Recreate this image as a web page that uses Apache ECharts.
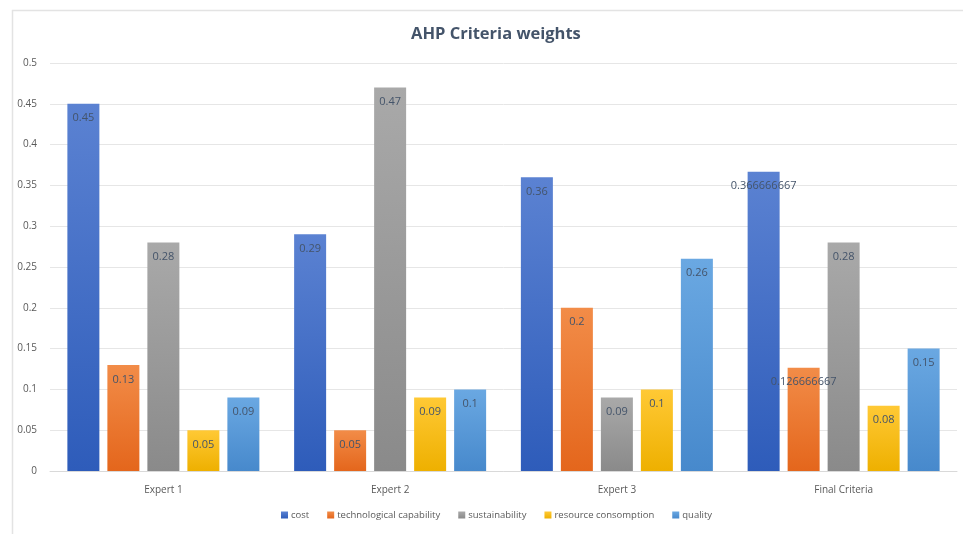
<!DOCTYPE html>
<html>
<head>
<meta charset="UTF-8">
<title>AHP Criteria weights</title>
<script src="https://cdn.jsdelivr.net/npm/echarts@6/dist/echarts.min.js"></script>
<style>
  html, body { margin: 0; padding: 0; background: #fff; }
  #main { width: 963px; height: 534px; }
</style>
</head>
<body>
<div id="main"></div>
<script>
// data
var categories = ['Expert 1', 'Expert 2', 'Expert 3', 'Final Criteria'];
var cost = [0.45, 0.29, 0.36, 0.366666667];
var techCapability = [0.13, 0.05, 0.2, 0.126666667];
var sustainability = [0.28, 0.47, 0.09, 0.28];
var resourceConsumption = [0.05, 0.09, 0.1, 0.08];
var quality = [0.09, 0.1, 0.26, 0.15];
var seriesNames = ['cost', 'technological capability', 'sustainability', 'resource consomption', 'quality'];

var chart = echarts.init(document.getElementById('main'));

function grad(top, bottom) {
  return new echarts.graphic.LinearGradient(0, 0, 0, 1, [
    { offset: 0, color: top },
    { offset: 1, color: bottom }
  ]);
}

var colors = [
  ['#5b82d2', '#2e5cba'],
  ['#f28c48', '#e4661c'],
  ['#a9a9a9', '#8a8a8a'],
  ['#ffc935', '#eeb000'],
  ['#6aa8e2', '#4789cc']
];
var legendColors = ['#3a68c4', '#ec7a30', '#a0a0a0', '#fbbf12', '#5b9bd5'];

function makeSeries(name, data, i) {
  return {
    name: name,
    type: 'bar',
    data: data,
    barWidth: 32,
    barGap: '25%',
    itemStyle: { color: grad(colors[i][0], colors[i][1]) },
    label: {
      show: true,
      position: 'insideTop',
      distance: 9,
      color: '#44546a',
      fontSize: 11,
      fontFamily: 'Open Sans'
    }
  };
}

var option = {
  color: legendColors,
  textStyle: { fontFamily: 'Open Sans' },
  // light frame around the chart area
  graphic: [{
    type: 'rect',
    left: 10,
    top: 8,
    shape: { width: 1000, height: 540 },
    style: { fill: 'none', stroke: '#e3e3e3', lineWidth: 1.5 },
    silent: true,
    z: -1
  }],
  title: {
    text: 'AHP Criteria weights',
    left: 406,
    top: 21,
    textStyle: { fontSize: 16.5, fontWeight: 'bold', color: '#44546a', fontFamily: 'Open Sans' }
  },
  legend: {
    data: seriesNames,
    bottom: 9,
    left: 276,
    itemWidth: 7,
    itemHeight: 7,
    itemGap: 18,
    icon: 'rect',
    textStyle: { fontSize: 9.5, color: '#595959', padding: [0, 0, 0, -2] }
  },
  grid: { left: 50, right: 6, top: 63, bottom: 63, containLabel: false },
  xAxis: {
    type: 'category',
    data: categories,
    axisLine: { lineStyle: { color: '#d9d9d9' } },
    axisTick: { show: false },
    axisLabel: { color: '#595959', fontSize: 10, margin: 14 }
  },
  yAxis: {
    type: 'value',
    min: 0,
    max: 0.5,
    interval: 0.05,
    axisLine: { show: false },
    axisTick: { show: false },
    axisLabel: { color: '#595959', fontSize: 10, margin: 13, formatter: function (v) { return +v.toFixed(2); } },
    splitLine: { lineStyle: { color: '#e6e6e6' } }
  },
  series: [
    makeSeries(seriesNames[0], cost, 0),
    makeSeries(seriesNames[1], techCapability, 1),
    makeSeries(seriesNames[2], sustainability, 2),
    makeSeries(seriesNames[3], resourceConsumption, 3),
    makeSeries(seriesNames[4], quality, 4)
  ]
};

chart.setOption(option);
</script>
</body>
</html>
